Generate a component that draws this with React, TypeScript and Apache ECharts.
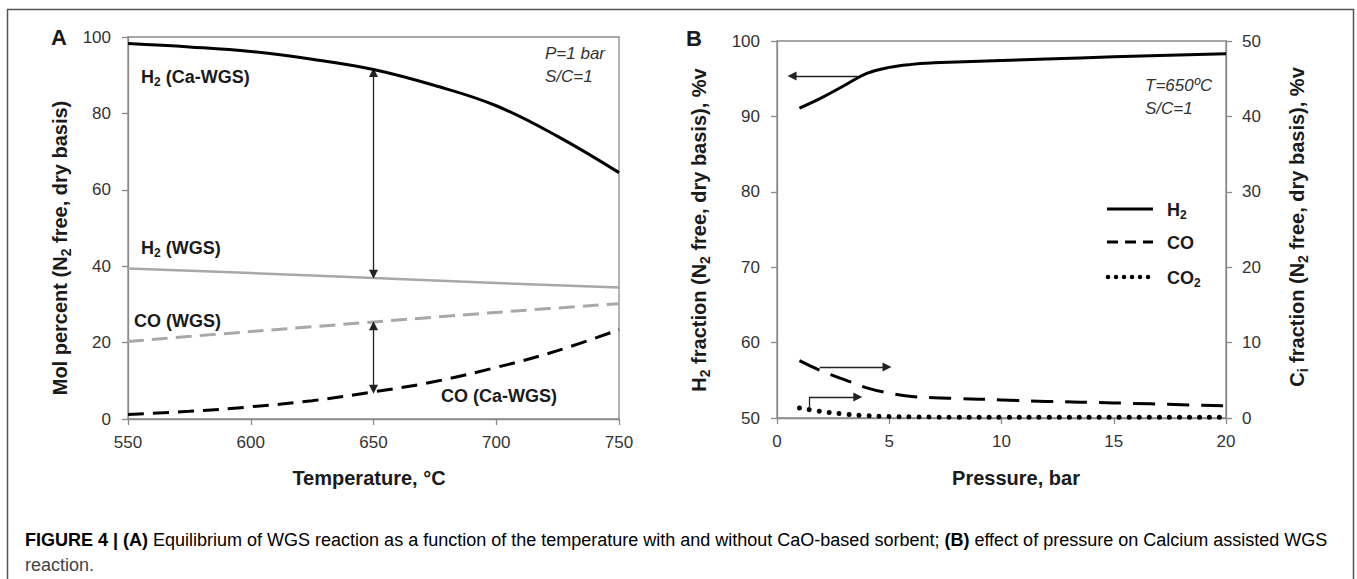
import React, { useEffect, useRef } from "react";
import * as echarts from "echarts";

// ---------- Panel A data (temperature, °C) ----------
const tempA = [550, 575, 600, 625, 650, 675, 700, 725, 750];
const h2CaWGS = [98.3, 97.4, 96.2, 94.2, 91.5, 87.3, 82.0, 74.0, 64.5];
const coCaWGS = [1.2, 2.0, 3.2, 4.8, 7.1, 9.8, 13.5, 17.9, 23.4];
const tempA5 = [550, 600, 650, 700, 750];
const h2WGS = [39.4, 38.2, 36.9, 35.6, 34.4];
const coWGS = [20.3, 22.9, 25.4, 27.9, 30.2];
const ticksA_x = { min: 550, max: 750, interval: 50 };
const ticksA_y = { min: 0, max: 100, interval: 20 };

// ---------- Panel B data (pressure, bar) ----------
const pressB = [1, 2, 3, 4, 5, 6, 7, 8, 10, 12, 15, 20];
const h2B = [91.1, 92.5, 94.1, 95.7, 96.5, 96.9, 97.1, 97.2, 97.4, 97.6, 97.9, 98.3];
const coB = [7.6, 6.2, 5.1, 4.0, 3.3, 2.85, 2.7, 2.6, 2.4, 2.2, 2.0, 1.6];
const co2B = [1.33, 0.85, 0.52, 0.3, 0.2, 0.15, 0.12, 0.1, 0.1, 0.1, 0.1, 0.1];
const ticksB_x = { min: 0, max: 20, interval: 5 };
const ticksB_yl = { min: 50, max: 100, interval: 10 };
const ticksB_yr = { min: 0, max: 50, interval: 10 };

// annotation arrows (data coordinates)
const arrowA1 = [[650, 90.7], [650, 37.9]];
const arrowA2 = [[650, 24.4], [650, 7.8]];
const arrowB_h2 = [[3.6, 95.36], [0.67, 95.36]];
const arrowB_co = [[1.9, 6.76], [4.9, 6.76]];
const arrowB_co2_up = [[1.43, 1.33], [1.43, 2.8]];
const arrowB_co2_right = [[1.43, 2.8], [3.6, 2.8]];

const captionBold1 = "FIGURE 4 | (A)";
const captionText1 =
  " Equilibrium of WGS reaction as a function of the temperature with and without CaO-based sorbent; ";
const captionBold2 = "(B)";
const captionText2 = " effect of pressure on Calcium assisted WGS";
const captionLine2 = "reaction.";

const FONT = "'Liberation Sans', Arial, Helvetica, sans-serif";

const zip = (xs: number[], ys: number[]) => xs.map((x, i) => [x, ys[i]]);

const axisLabel = (margin: number) => ({
  color: "#333",
  fontSize: 17,
  fontFamily: FONT,
  margin,
});
const axisLine = { show: true, lineStyle: { color: "#8a8a8a", width: 1.3 } };
const axisTick = { show: true, inside: false, length: 6, lineStyle: { color: "#8a8a8a", width: 1.3 } };

const arrowLine = (pairs: number[][][], symbol: string[]) => ({
  silent: true,
  symbol,
  symbolSize: 9,
  label: { show: false },
  emphasis: { disabled: true },
  lineStyle: { color: "#222", width: 1.3, type: "solid" },
  data: pairs.map((p) => [{ coord: p[0] }, { coord: p[1] }]),
});

const richSub = (size: number) => ({
  b: { fontSize: size, fontWeight: "bold", fontFamily: FONT, color: "#1a1a1a" },
  s: {
    fontSize: Math.round(size * 0.68),
    fontWeight: "bold",
    fontFamily: FONT,
    color: "#1a1a1a",
    padding: [Math.round(size * 0.55), 0, 0, 0],
  },
});

function textEl(x: number, y: number, text: string, size: number, opts: any = {}) {
  return {
    type: "text",
    x,
    y,
    rotation: opts.rotation || 0,
    z: 50,
    style: {
      text,
      align: opts.align || "left",
      verticalAlign: "middle",
      fontSize: size,
      fontWeight: opts.weight || "bold",
      fontStyle: opts.italic ? "italic" : "normal",
      fontFamily: FONT,
      fill: opts.color || "#1a1a1a",
      rich: opts.rich,
    },
  };
}

export default function App() {
  const ref = useRef<HTMLDivElement>(null);

  useEffect(() => {
    document.body.style.margin = "0";
    if (!ref.current) return;
    const chart = echarts.init(ref.current, undefined, { renderer: "svg" });

    const option: any = {
      animation: false,
      backgroundColor: "#fff",
      grid: [
        { left: 128, top: 37, width: 491, height: 382, show: true, borderColor: "#8a8a8a", borderWidth: 1.3 },
        { left: 777, top: 41, width: 449, height: 377, show: true, borderColor: "#8a8a8a", borderWidth: 1.3 },
      ],
      xAxis: [
        {
          type: "value",
          gridIndex: 0,
          ...ticksA_x,
          axisLine,
          axisTick,
          axisLabel: axisLabel(15),
          splitLine: { show: false },
        },
        {
          type: "value",
          gridIndex: 1,
          ...ticksB_x,
          axisLine,
          axisTick,
          axisLabel: axisLabel(15),
          splitLine: { show: false },
        },
      ],
      yAxis: [
        {
          type: "value",
          gridIndex: 0,
          ...ticksA_y,
          axisLine,
          axisTick,
          axisLabel: axisLabel(17),
          splitLine: { show: false },
        },
        {
          type: "value",
          gridIndex: 1,
          position: "left",
          ...ticksB_yl,
          axisLine,
          axisTick,
          axisLabel: axisLabel(17),
          splitLine: { show: false },
        },
        {
          type: "value",
          gridIndex: 1,
          position: "right",
          ...ticksB_yr,
          axisLine,
          axisTick,
          axisLabel: axisLabel(16),
          splitLine: { show: false },
        },
      ],
      series: [
        {
          name: "H2 (Ca-WGS)",
          type: "line",
          xAxisIndex: 0,
          yAxisIndex: 0,
          data: zip(tempA, h2CaWGS),
          smooth: 0.4,
          symbol: "none",
          lineStyle: { color: "#000", width: 3 },
          z: 5,
          markLine: arrowLine([arrowA1, arrowA2], ["triangle", "triangle"]),
        },
        {
          name: "H2 (WGS)",
          type: "line",
          xAxisIndex: 0,
          yAxisIndex: 0,
          data: zip(tempA5, h2WGS),
          smooth: 0.3,
          symbol: "none",
          lineStyle: { color: "#a8a8a8", width: 2.5 },
        },
        {
          name: "CO (WGS)",
          type: "line",
          xAxisIndex: 0,
          yAxisIndex: 0,
          data: zip(tempA5, coWGS),
          smooth: 0.3,
          symbol: "none",
          lineStyle: { color: "#a8a8a8", width: 3, type: [16, 8] },
        },
        {
          name: "CO (Ca-WGS)",
          type: "line",
          xAxisIndex: 0,
          yAxisIndex: 0,
          data: zip(tempA, coCaWGS),
          smooth: 0.4,
          symbol: "none",
          lineStyle: { color: "#000", width: 3, type: [16, 9] },
        },
        {
          name: "H2",
          type: "line",
          xAxisIndex: 1,
          yAxisIndex: 1,
          data: zip(pressB, h2B),
          smooth: 0.4,
          symbol: "none",
          lineStyle: { color: "#000", width: 3 },
          markLine: arrowLine([arrowB_h2], ["none", "triangle"]),
        },
        {
          name: "CO",
          type: "line",
          xAxisIndex: 1,
          yAxisIndex: 2,
          data: zip(pressB, coB),
          smooth: 0.4,
          symbol: "none",
          lineStyle: { color: "#000", width: 3, type: [22, 12] },
          markLine: arrowLine([arrowB_co, arrowB_co2_right], ["none", "triangle"]),
        },
        {
          name: "CO2",
          type: "line",
          xAxisIndex: 1,
          yAxisIndex: 2,
          data: zip(pressB, co2B),
          smooth: 0.4,
          symbol: "none",
          lineStyle: { color: "#000", width: 5, type: [0.01, 10], cap: "round" },
          markLine: arrowLine([arrowB_co2_up], ["none", "none"]),
        },
      ],
      graphic: [
        {
          type: "rect",
          shape: { x: 7.5, y: 9.5, width: 1346, height: 620 },
          style: { fill: "none", stroke: "#555", lineWidth: 1.5 },
          z: 1,
        },
        // panel letters
        textEl(59, 37, "A", 22, { align: "center" }),
        textEl(694, 38, "B", 22, { align: "center" }),
        // axis names
        textEl(60, 248, "{b|Mol percent (N}{s|2}{b| free, dry basis)}", 20, {
          align: "center",
          rotation: Math.PI / 2,
          rich: richSub(20),
        }),
        textEl(369, 478, "Temperature, °C", 20, { align: "center" }),
        textEl(1016, 478, "Pressure, bar", 20, { align: "center" }),
        textEl(699, 230, "{b|H}{s|2}{b| fraction (N}{s|2}{b| free, dry basis), %v}", 20, {
          align: "center",
          rotation: Math.PI / 2,
          rich: richSub(20),
        }),
        textEl(1297, 227, "{b|C}{s|i}{b| fraction (N}{s|2}{b| free, dry basis), %v}", 20, {
          align: "center",
          rotation: Math.PI / 2,
          rich: richSub(20),
        }),
        // panel A labels
        textEl(141, 77, "{b|H}{s|2}{b| (Ca-WGS)}", 18, { rich: richSub(18) }),
        textEl(141, 248, "{b|H}{s|2}{b| (WGS)}", 18, { rich: richSub(18) }),
        textEl(134, 321, "CO (WGS)", 18),
        textEl(441, 396, "CO (Ca-WGS)", 18),
        textEl(545, 53, "P=1 bar", 17, { italic: true, weight: "normal", color: "#333" }),
        textEl(545, 76, "S/C=1", 17, { italic: true, weight: "normal", color: "#333" }),
        // panel B labels
        textEl(1145, 85, "T=650ºC", 17, { italic: true, weight: "normal", color: "#333" }),
        textEl(1145, 108, "S/C=1", 17, { italic: true, weight: "normal", color: "#333" }),
        // legend
        {
          type: "line",
          shape: { x1: 1107, y1: 209, x2: 1153, y2: 209 },
          style: { stroke: "#000", lineWidth: 3 },
          z: 50,
        },
        {
          type: "line",
          shape: { x1: 1107, y1: 242, x2: 1153, y2: 242 },
          style: { stroke: "#000", lineWidth: 3, lineDash: [11, 7] },
          z: 50,
        },
        {
          type: "line",
          shape: { x1: 1108, y1: 277, x2: 1153, y2: 277 },
          style: { stroke: "#000", lineWidth: 4.5, lineDash: [0.01, 8], lineCap: "round" },
          z: 50,
        },
        textEl(1167, 210, "{b|H}{s|2}", 18, { rich: richSub(18) }),
        textEl(1167, 243, "CO", 18),
        textEl(1167, 278, "{b|CO}{s|2}", 18, { rich: richSub(18) }),
        // caption
        {
          type: "text",
          x: 25,
          y: 540,
          z: 50,
          style: {
            text: `{b|${captionBold1}}{r|${captionText1}}{b|${captionBold2}}{r|${captionText2}}`,
            verticalAlign: "middle",
            rich: {
              b: { fontSize: 18, fontWeight: "bold", fontFamily: FONT, color: "#222" },
              r: { fontSize: 18, fontWeight: "normal", fontFamily: FONT, color: "#444" },
            },
          },
        },
        textEl(25, 565, captionLine2, 18, { weight: "normal", color: "#444" }),
      ],
    };

    chart.setOption(option);
    return () => chart.dispose();
  }, []);

  return <div ref={ref} style={{ width: 1357, height: 579 }} />;
}
